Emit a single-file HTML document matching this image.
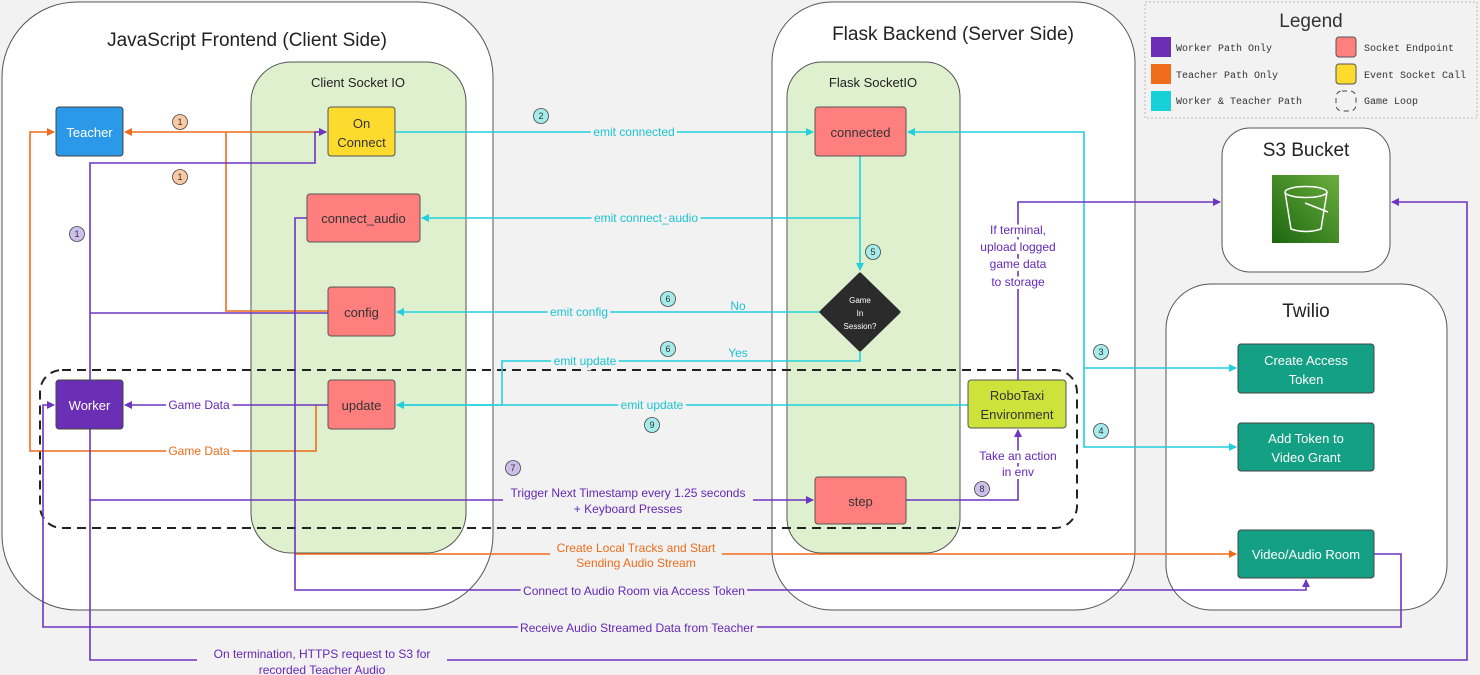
<!DOCTYPE html>
<html><head><meta charset="utf-8"><style>
html,body{margin:0;padding:0;background:#f2f2f2;}
svg{display:block;font-family:"Liberation Sans",sans-serif;}
.t{font-size:13px;text-anchor:middle;}
.c{stroke:#22cfdc;fill:none;stroke-width:1.6}
.p{stroke:#6d35c0;fill:none;stroke-width:1.6}
.o{stroke:#ee6c1a;fill:none;stroke-width:1.6}
.lc{fill:#1cc3d2;font-size:12px;text-anchor:middle;paint-order:stroke;stroke-width:6px}
.lp{fill:#6428b8;font-size:12px;text-anchor:middle;paint-order:stroke;stroke-width:6px}
.lo{fill:#ee6c1a;font-size:12px;text-anchor:middle;paint-order:stroke;stroke-width:6px}
.mono{font-family:"Liberation Mono",monospace;font-size:10px;fill:#333}
</style></head><body>
<svg width="1480" height="675" viewBox="0 0 1480 675" xmlns="http://www.w3.org/2000/svg">
<defs>
<marker id="ac" markerWidth="8" markerHeight="8" refX="7" refY="4" orient="auto" markerUnits="userSpaceOnUse"><path d="M0,0 L8,4 L0,8 Z" fill="#22cfdc"/></marker>
<marker id="ap" markerWidth="8" markerHeight="8" refX="7" refY="4" orient="auto" markerUnits="userSpaceOnUse"><path d="M0,0 L8,4 L0,8 Z" fill="#6d35c0"/></marker>
<marker id="ao" markerWidth="8" markerHeight="8" refX="7" refY="4" orient="auto" markerUnits="userSpaceOnUse"><path d="M0,0 L8,4 L0,8 Z" fill="#ee6c1a"/></marker>
<marker id="aos" markerWidth="8" markerHeight="8" refX="1" refY="4" orient="auto" markerUnits="userSpaceOnUse"><path d="M8,0 L0,4 L8,8 Z" fill="#ee6c1a"/></marker>
<linearGradient id="s3g" x1="0" y1="1" x2="1" y2="0"><stop offset="0" stop-color="#1b660f"/><stop offset="1" stop-color="#6cae3e"/></linearGradient>
</defs>
<rect width="1480" height="675" fill="#f2f2f2"/>
<!-- containers -->
<rect x="2" y="2" width="491" height="608" rx="75" fill="#fff" stroke="#555" stroke-width="1"/>
<text x="247" y="46" font-size="19" text-anchor="middle" fill="#222">JavaScript Frontend (Client Side)</text>
<rect x="251" y="62" width="215" height="491" rx="40" fill="#dff0cf" stroke="#555"/>
<text x="358" y="87" class="t" fill="#222">Client Socket IO</text>
<rect x="772" y="2" width="363" height="608" rx="60" fill="#fff" stroke="#555"/>
<text x="953" y="40" font-size="19" text-anchor="middle" fill="#222">Flask Backend (Server Side)</text>
<rect x="787" y="62" width="173" height="491" rx="35" fill="#dff0cf" stroke="#555"/>
<text x="873" y="87" class="t" fill="#222">Flask SocketIO</text>
<rect x="1145" y="2" width="332" height="116" fill="#f2f2f2" stroke="#bbb" stroke-dasharray="2,2"/>
<text x="1311" y="27" font-size="19" text-anchor="middle" fill="#333">Legend</text>
<rect x="1151" y="37" width="20" height="20" fill="#6a2fb4"/><text x="1176" y="51" class="mono">Worker Path Only</text>
<rect x="1151" y="64" width="20" height="20" fill="#ee6c1a"/><text x="1176" y="78" class="mono">Teacher Path Only</text>
<rect x="1151" y="91" width="20" height="20" fill="#17d0d8"/><text x="1176" y="104" class="mono">Worker &amp; Teacher Path</text>
<rect x="1336" y="37" width="20" height="20" rx="3" fill="#ff7f7f" stroke="#555"/><text x="1364" y="51" class="mono">Socket Endpoint</text>
<rect x="1336" y="64" width="20" height="20" rx="3" fill="#fddb2e" stroke="#555"/><text x="1364" y="78" class="mono">Event Socket Call</text>
<rect x="1336" y="91" width="20" height="20" rx="6" fill="none" stroke="#444" stroke-dasharray="5,4"/><text x="1364" y="104" class="mono">Game Loop</text>
<rect x="1222" y="128" width="168" height="144" rx="28" fill="#fff" stroke="#555"/>
<text x="1306" y="156" font-size="19" text-anchor="middle" fill="#222">S3 Bucket</text>
<rect x="1272" y="175" width="67" height="68" fill="url(#s3g)"/>
<g stroke="#fff" stroke-width="1.5" fill="none"><ellipse cx="1306" cy="192" rx="21" ry="5.5"/><path d="M1285,192 L1291,229 Q1306,234 1321,229 L1327,192"/><path d="M1305,203 L1328,212"/></g>
<rect x="1166" y="284" width="281" height="326" rx="45" fill="#fff" stroke="#555"/>
<text x="1306" y="317" font-size="19" text-anchor="middle" fill="#222">Twilio</text>
<!-- game loop -->
<rect x="40" y="370" width="1037" height="158" rx="22" fill="none" stroke="#222" stroke-width="2" stroke-dasharray="9,6"/>

<!-- cyan lines -->
<path class="c" d="M395,132 H813" marker-end="url(#ac)"/>
<path class="c" d="M860,156 V218 H422" marker-end="url(#ac)"/>
<path class="c" d="M860,218 V270" marker-end="url(#ac)"/>
<path class="c" d="M820,312 H397" marker-end="url(#ac)"/>
<path class="c" d="M860,352 V361 H502 V405 H397" marker-end="url(#ac)"/>
<path class="c" d="M968,405 H397" marker-end="url(#ac)"/>
<path class="c" d="M1084,368 V132 H908" marker-end="url(#ac)"/>
<path class="c" d="M1084,368 H1236" marker-end="url(#ac)"/>
<path class="c" d="M1084,368 V447 H1236" marker-end="url(#ac)"/>
<!-- orange -->
<path class="o" d="M125,132 H326" marker-start="url(#aos)" marker-end="url(#ao)"/>
<path class="o" d="M328,311 H226 V132"/>
<path class="o" d="M316,405 V451 H30 V132 H54" marker-end="url(#ao)"/>
<path class="o" d="M295,554 H1236" marker-end="url(#ao)"/>
<!-- purple -->
<path class="p" d="M90,380 V163 H315 V132 H326" marker-end="url(#ap)"/>
<path class="p" d="M328,313 H90"/>
<path class="p" d="M328,405 H125" marker-end="url(#ap)"/>
<path class="p" d="M90,429 V500 H813" marker-end="url(#ap)"/>
<path class="p" d="M906,500 H1018 V430" marker-end="url(#ap)"/>
<path class="p" d="M1018,380 V202 H1220" marker-end="url(#ap)"/>
<path class="p" d="M307,218 H295 V590 H1306 V580" marker-end="url(#ap)"/>
<path class="p" d="M1374,554 H1401 V627 H43 V405 H54" marker-end="url(#ap)"/>
<path class="p" d="M90,500 V660 H1467 V202 H1392" marker-end="url(#ap)"/>

<!-- label backgrounds for two-line labels -->
<rect x="503" y="484" width="250" height="30" fill="#f2f2f2"/>
<rect x="197" y="645" width="250" height="30" fill="#f2f2f2"/>
<rect x="550" y="540" width="172" height="30" fill="#f2f2f2"/>

<!-- labels -->
<text x="634" y="136" class="lc" stroke="#f2f2f2">emit connected</text>
<text x="646" y="222" class="lc" stroke="#f2f2f2">emit connect_audio</text>
<text x="579" y="316" class="lc" stroke="#f2f2f2">emit config</text>
<text x="738" y="310" class="lc" stroke="none">No</text>
<text x="585" y="365" class="lc" stroke="#f2f2f2">emit update</text>
<text x="738" y="357" class="lc" stroke="none">Yes</text>
<text x="652" y="409" class="lc" stroke="#f2f2f2">emit update</text>
<text x="199" y="409" class="lp" stroke="#fff">Game Data</text>
<text x="199" y="455" class="lo" stroke="#fff">Game Data</text>
<text x="628" y="497" class="lp" stroke="none">Trigger Next Timestamp every 1.25 seconds</text>
<text x="628" y="513" class="lp" stroke="none">+ Keyboard Presses</text>
<text x="1018" y="460" class="lp" stroke="#fff">Take an action</text>
<text x="1018" y="476" class="lp" stroke="#fff">in env</text>
<text x="1018" y="234" class="lp" stroke="#fff">If terminal,</text>
<text x="1018" y="251" class="lp" stroke="#fff">upload logged</text>
<text x="1018" y="268" class="lp" stroke="#fff">game data</text>
<text x="1018" y="286" class="lp" stroke="#fff">to storage</text>
<text x="636" y="552" class="lo" stroke="none">Create Local Tracks and Start</text>
<text x="636" y="567" class="lo" stroke="none">Sending Audio Stream</text>
<text x="634" y="595" class="lp" stroke="#f2f2f2">Connect to Audio Room via Access Token</text>
<text x="637" y="632" class="lp" stroke="#f2f2f2">Receive Audio Streamed Data from Teacher</text>
<text x="322" y="658" class="lp" stroke="none">On termination, HTTPS request to S3 for</text>
<text x="322" y="674" class="lp" stroke="none">recorded Teacher Audio</text>

<!-- badges -->
<g font-size="9" text-anchor="middle" fill="#333" stroke="#444" stroke-width="0.8">
<circle cx="180" cy="122" r="7.5" fill="#f8c9a4"/><circle cx="180" cy="177" r="7.5" fill="#f8c9a4"/>
<circle cx="77" cy="234" r="7.5" fill="#cdbfec"/>
<circle cx="541" cy="116" r="7.5" fill="#a6ecec"/>
<circle cx="873" cy="252" r="7.5" fill="#a6ecec"/>
<circle cx="668" cy="299" r="7.5" fill="#a6ecec"/><circle cx="668" cy="349" r="7.5" fill="#a6ecec"/>
<circle cx="652" cy="425" r="7.5" fill="#a6ecec"/>
<circle cx="513" cy="468" r="7.5" fill="#cdbfec"/><circle cx="982" cy="489" r="7.5" fill="#cdbfec"/>
<circle cx="1101" cy="352" r="7.5" fill="#a6ecec"/><circle cx="1101" cy="431" r="7.5" fill="#a6ecec"/>
</g>
<g font-size="9" text-anchor="middle" fill="#333">
<text x="180" y="125">1</text><text x="180" y="180">1</text><text x="77" y="237">1</text><text x="541" y="119">2</text><text x="873" y="255">5</text><text x="668" y="302">6</text><text x="668" y="352">6</text><text x="652" y="428">9</text><text x="513" y="471">7</text><text x="982" y="492">8</text><text x="1101" y="355">3</text><text x="1101" y="434">4</text>
</g>

<!-- nodes -->
<rect x="56" y="107" width="67" height="49" rx="3" fill="#2b98e8" stroke="#444"/>
<text x="89.5" y="137" class="t" fill="#fff" font-size="14">Teacher</text>
<rect x="56" y="380" width="67" height="49" rx="3" fill="#6a2fb4" stroke="#444"/>
<text x="89.5" y="410" class="t" fill="#fff" font-size="14">Worker</text>
<rect x="328" y="107" width="67" height="49" rx="3" fill="#fddb2e" stroke="#555"/>
<text x="361.5" y="128" class="t" fill="#333">On</text><text x="361.5" y="147" class="t" fill="#333">Connect</text>
<rect x="307" y="194" width="113" height="48" rx="3" fill="#ff7f7f" stroke="#555"/>
<text x="363.5" y="223" class="t" fill="#333">connect_audio</text>
<rect x="328" y="287" width="67" height="49" rx="3" fill="#ff7f7f" stroke="#555"/>
<text x="361.5" y="317" class="t" fill="#333">config</text>
<rect x="328" y="380" width="67" height="49" rx="3" fill="#ff7f7f" stroke="#555"/>
<text x="361.5" y="410" class="t" fill="#333">update</text>
<rect x="815" y="107" width="91" height="49" rx="3" fill="#ff7f7f" stroke="#555"/>
<text x="860.5" y="137" class="t" fill="#333">connected</text>
<rect x="815" y="477" width="91" height="47" rx="3" fill="#ff7f7f" stroke="#555"/>
<text x="860.5" y="506" class="t" fill="#333">step</text>
<path d="M860,274 L899,312 L860,350 L821,312 Z" fill="#2b2b2b" stroke="#2b2b2b" stroke-linejoin="round" stroke-width="3"/>
<g font-size="8" fill="#fff" text-anchor="middle"><text x="860" y="303">Game</text><text x="860" y="316">In</text><text x="860" y="329">Session?</text></g>
<rect x="968" y="380" width="98" height="48" rx="3" fill="#cde23b" stroke="#555"/>
<text x="1017" y="400" class="t" fill="#333">RoboTaxi</text><text x="1017" y="419" class="t" fill="#333">Environment</text>
<rect x="1238" y="344" width="136" height="49" rx="3" fill="#13a085" stroke="#444"/>
<text x="1306" y="365" class="t" fill="#fff">Create Access</text><text x="1306" y="384" class="t" fill="#fff">Token</text>
<rect x="1238" y="423" width="136" height="48" rx="3" fill="#13a085" stroke="#444"/>
<text x="1306" y="443" class="t" fill="#fff">Add Token to</text><text x="1306" y="462" class="t" fill="#fff">Video Grant</text>
<rect x="1238" y="530" width="136" height="48" rx="3" fill="#13a085" stroke="#444"/>
<text x="1306" y="559" class="t" fill="#fff">Video/Audio Room</text>
</svg>
</body></html>
